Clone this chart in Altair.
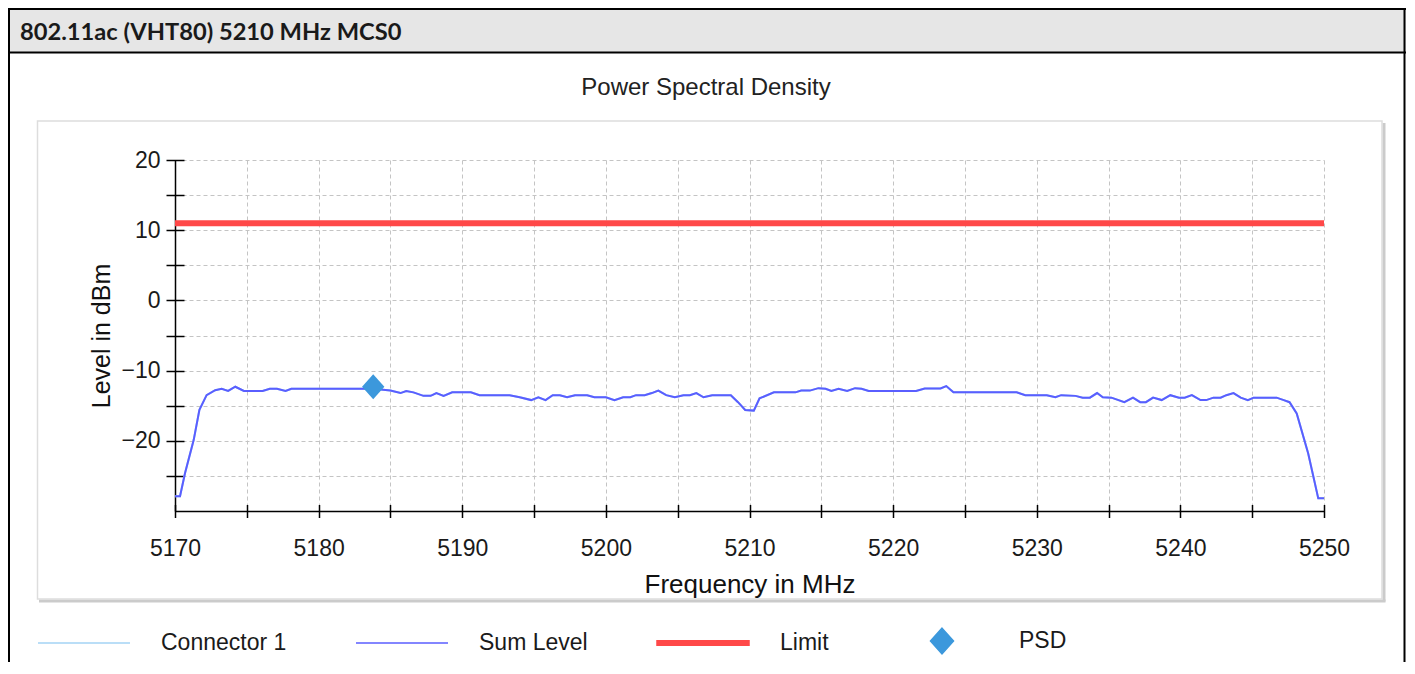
import altair as alt
import pandas as pd

# ---------------- data ----------------
freq = [5170.0, 5170.35, 5170.7, 5171.3, 5171.7, 5172.2, 5172.8, 5173.25, 5173.7, 5174.2,
        5174.8, 5176.1, 5176.6, 5177.1, 5177.7, 5178.1, 5183.8, 5185.0, 5185.7, 5186.1,
        5186.6, 5187.3, 5187.8, 5188.2, 5188.7, 5189.3, 5190.6, 5191.2, 5193.3, 5194.0,
        5194.8, 5195.3, 5195.8, 5196.3, 5196.8, 5197.3, 5197.85, 5198.7, 5199.2, 5200.0,
        5200.6, 5201.2, 5201.7, 5202.1, 5202.7, 5203.2, 5203.65, 5204.2, 5204.8, 5205.4,
        5205.85, 5206.3, 5206.8, 5207.4, 5208.7, 5209.2, 5209.7, 5210.3, 5210.7, 5211.7,
        5213.2, 5213.6, 5214.2, 5214.8, 5215.3, 5215.7, 5216.2, 5216.8, 5217.35, 5217.8,
        5218.3, 5221.6, 5222.2, 5223.3, 5223.7, 5224.2, 5228.6, 5229.2, 5230.7, 5231.3,
        5231.7, 5232.7, 5233.2, 5233.7, 5234.2, 5234.6, 5235.2, 5236.1, 5236.7, 5237.2,
        5237.6, 5238.1, 5238.7, 5239.3, 5239.9, 5240.3, 5240.8, 5241.4, 5241.8, 5242.3,
        5242.8, 5243.2, 5243.7, 5244.2, 5244.7, 5245.1, 5246.7, 5247.2, 5247.6, 5248.1,
        5248.9, 5249.6, 5250.0]
level = [-27.9, -27.9, -24.6, -19.9, -15.6, -13.5, -12.8, -12.6, -12.9, -12.3,
         -12.9, -12.9, -12.6, -12.6, -12.9, -12.6, -12.6, -12.85, -13.2, -12.9,
         -13.1, -13.6, -13.6, -13.2, -13.6, -13.1, -13.1, -13.5, -13.5, -13.8,
         -14.2, -13.8, -14.2, -13.5, -13.5, -13.8, -13.5, -13.5, -13.8, -13.8,
         -14.2, -13.8, -13.8, -13.5, -13.5, -13.2, -12.85, -13.5, -13.8, -13.5,
         -13.5, -13.2, -13.8, -13.5, -13.5, -14.5, -15.6, -15.7, -13.95, -13.1,
         -13.1, -12.85, -12.85, -12.5, -12.6, -12.9, -12.6, -12.9, -12.5, -12.6,
         -12.9, -12.9, -12.55, -12.55, -12.2, -13.1, -13.1, -13.5, -13.5, -13.8,
         -13.5, -13.6, -13.85, -13.85, -13.2, -13.8, -13.85, -14.5, -13.85, -14.5,
         -14.5, -13.85, -14.2, -13.5, -13.85, -13.85, -13.5, -14.2, -14.2, -13.85,
         -13.85, -13.5, -13.2, -13.85, -14.2, -13.85, -13.85, -14.2, -14.5, -16.1,
         -21.8, -28.2, -28.2]
limit_freq = [5170, 5250]
limit_level = [11, 11]
psd_freq = [5183.8]
psd_level = [-12.3]

series_names = ["Connector 1", "Sum Level", "Limit", "PSD"]
series_colors = ["#a3d3f5", "#5a5eff", "#ff4848", "#3c98dc"]
x_ticks = list(range(5170, 5251, 5))
y_ticks = list(range(-30, 21, 5))

header_text = "802.11ac (VHT80) 5210 MHz MCS0"
chart_title = "Power Spectral Density"
x_title = "Frequency in MHz"
y_title = "Level in dBm"

# ---------------- layout ----------------
W, H = 1149, 351
PAD_L, PAD_T = 167, 152
TOTAL_W, TOTAL_H = 1398, 654
PAD_R = TOTAL_W - PAD_L - W
PAD_B = TOTAL_H - PAD_T - H
OX, OY = PAD_L + 8, PAD_T + 8  # page position of plot origin


def px(x):
    return x - OX


def py(y):
    return y - OY


FONT = "Liberation Sans"

conn_df = pd.DataFrame({"freq": freq, "level": level, "series": "Connector 1"})
sum_df = pd.DataFrame({"freq": freq, "level": level, "series": "Sum Level"})
limit_df = pd.DataFrame({"freq": limit_freq, "level": limit_level, "series": "Limit"})
psd_df = pd.DataFrame({"freq": psd_freq, "level": psd_level, "series": "PSD"})
one = pd.DataFrame({"k": [0]})

x_scale = alt.Scale(domain=[5170, 5250], nice=False, zero=False)
y_scale = alt.Scale(domain=[-30, 20], nice=False, zero=False)

# legend symbol shapes (custom unit paths): thin line, thick bar, diamond
LINE_PATH = "M-1,0H1"
BAR_PATH = "M-1,-0.049H1V0.049H-1Z"
DIAMOND_PATH = "M0,-0.28L0.25,0L0,0.28L-0.25,0Z"
series_shapes = [LINE_PATH, LINE_PATH, BAR_PATH, DIAMOND_PATH]

legend = alt.Legend(
    title=None, orient="none", direction="horizontal",
    legendX=px(37), legendY=py(641) - 47,
    symbolSize=8464, symbolStrokeWidth=1.5,
    labelFont=FONT, labelFontSize=23, labelColor="#1a1a1a", labelOffset=30,
    columnPadding=66, padding=0,
)
color_enc = alt.Color("series:N", sort=series_names,
                      scale=alt.Scale(domain=series_names, range=series_colors),
                      legend=legend)
shape_enc = alt.Shape("series:N", sort=series_names,
                      scale=alt.Scale(domain=series_names, range=series_shapes),
                      legend=legend)

grid_kw = dict(grid=True, gridColor="#c4c4c4", gridDash=[4, 3], gridWidth=1)
x_label_axis = alt.Axis(
    orient="bottom", values=x_ticks, format="d",
    labelExpr="datum.value % 10 == 0 ? datum.label : ''",
    domain=True, domainColor="black", domainWidth=1.5,
    ticks=False, tickSize=0, labelPadding=555 - 511, labelBaseline="alphabetic",
    labelFont=FONT, labelFontSize=23, labelColor="#1a1a1a",
    labelFlush=False, labelOverlap=False,
    title=x_title, titleFont=FONT, titleFontSize=26, titleFontWeight="normal",
    titleColor="#111111", titleBaseline="alphabetic", titleY=592 - 511,
    **grid_kw)
y_label_axis = alt.Axis(
    orient="left", values=y_ticks,
    labelExpr="datum.value % 10 == 0 && datum.value > -30 ? datum.label : ''",
    domain=True, domainColor="black", domainWidth=1.5,
    ticks=False, tickSize=0, labelPadding=15,
    labelFont=FONT, labelFontSize=23, labelColor="#1a1a1a", labelOverlap=False,
    title=y_title, titleFont=FONT, titleFontSize=25, titleFontWeight="normal",
    titleColor="#111111", titleAngle=270, titleBaseline="alphabetic",
    titleAlign="center", titleX=px(109), titleY=H / 2,
    **grid_kw)
x_tick_axis = alt.Axis(orient="bottom", values=x_ticks, domain=False, labels=False,
                       grid=False, ticks=True, tickSize=13, tickColor="black",
                       tickWidth=1.5, offset=-6.5, title=None)
y_tick_axis = alt.Axis(orient="left", values=y_ticks[1:], domain=False, labels=False,
                       grid=False, ticks=True, tickSize=18, tickColor="black",
                       tickWidth=1.5, offset=-9, title=None)

conn_line = alt.Chart(conn_df).mark_line(strokeWidth=2).encode(
    x=alt.X("freq:Q", scale=x_scale, axis=x_label_axis),
    y=alt.Y("level:Q", scale=y_scale, axis=y_label_axis),
    color=color_enc)
sum_line = alt.Chart(sum_df).mark_line(strokeWidth=2).encode(
    x=alt.X("freq:Q", scale=x_scale, axis=x_tick_axis),
    y=alt.Y("level:Q", scale=y_scale, axis=y_tick_axis),
    color=color_enc)
limit_line = alt.Chart(limit_df).mark_line(strokeWidth=6).encode(
    x=alt.X("freq:Q", scale=x_scale, axis=None),
    y=alt.Y("level:Q", scale=y_scale, axis=None),
    color=color_enc)
psd_point = alt.Chart(psd_df).mark_point(filled=True, size=7970, opacity=1,
                                         strokeWidth=0).encode(
    x=alt.X("freq:Q", scale=x_scale, axis=None),
    y=alt.Y("level:Q", scale=y_scale, axis=None),
    color=color_enc, shape=shape_enc)

# ---------------- decoration (page frame, header, chart box) ----------------
right_edge = TOTAL_W - PAD_L
bottom_edge = TOTAL_H - PAD_T


def rule(x1, x2, y1, y2, color, width):
    return alt.Chart(one).mark_rule(color=color, strokeWidth=width).encode(
        x=alt.value(x1), x2=alt.value(x2), y=alt.value(y1), y2=alt.value(y2))


header_bg = alt.Chart(one).mark_rect(fill="#e6e6e6").encode(
    x=alt.value(-PAD_L), x2=alt.value(right_edge), y=alt.value(-PAD_T), y2=alt.value(py(52)))
box = alt.Chart(one).mark_rect(fill="transparent", stroke="#dddddd", strokeWidth=1.5).encode(
    x=alt.value(px(37.5)), x2=alt.value(px(1382)), y=alt.value(py(121)), y2=alt.value(py(599)))
deco = [
    header_bg,
    rule(px(1384), px(1384), py(123), py(601.5), "#cbcbcb", 3),
    rule(px(39), px(1385.5), py(601), py(601), "#cbcbcb", 3),
    box,
    rule(-PAD_L, right_edge, -PAD_T + 1, -PAD_T + 1, "black", 2),
    rule(-PAD_L, right_edge, py(52.5), py(52.5), "black", 2),
    rule(-PAD_L + 1, -PAD_L + 1, -PAD_T, bottom_edge, "black", 2),
    rule(right_edge - 1.5, right_edge - 1.5, -PAD_T, bottom_edge, "black", 2),
    alt.Chart(one).mark_text(text=header_text, font="Lato", fontSize=23.7, fontWeight="bold",
                             align="left", baseline="alphabetic", color="#1a1a1a").encode(
        x=alt.value(px(20)), y=alt.value(py(39.5))),
    alt.Chart(one).mark_text(text=chart_title, font=FONT, fontSize=24, align="center",
                             baseline="alphabetic", color="#222222").encode(
        x=alt.value(px(706)), y=alt.value(py(95))),
]

chart = alt.layer(*deco, conn_line, sum_line, limit_line, psd_point).resolve_scale(
    x="shared", y="shared", color="shared", shape="shared"
).resolve_axis(
    x="independent", y="independent"
).properties(
    width=W, height=H, background="white",
    autosize=alt.AutoSizeParams(type="none"),
    padding={"left": PAD_L, "top": PAD_T, "right": PAD_R, "bottom": PAD_B},
).configure_view(strokeWidth=0)

chart.save("out.html", embed_options={"renderer": "svg", "actions": False})
